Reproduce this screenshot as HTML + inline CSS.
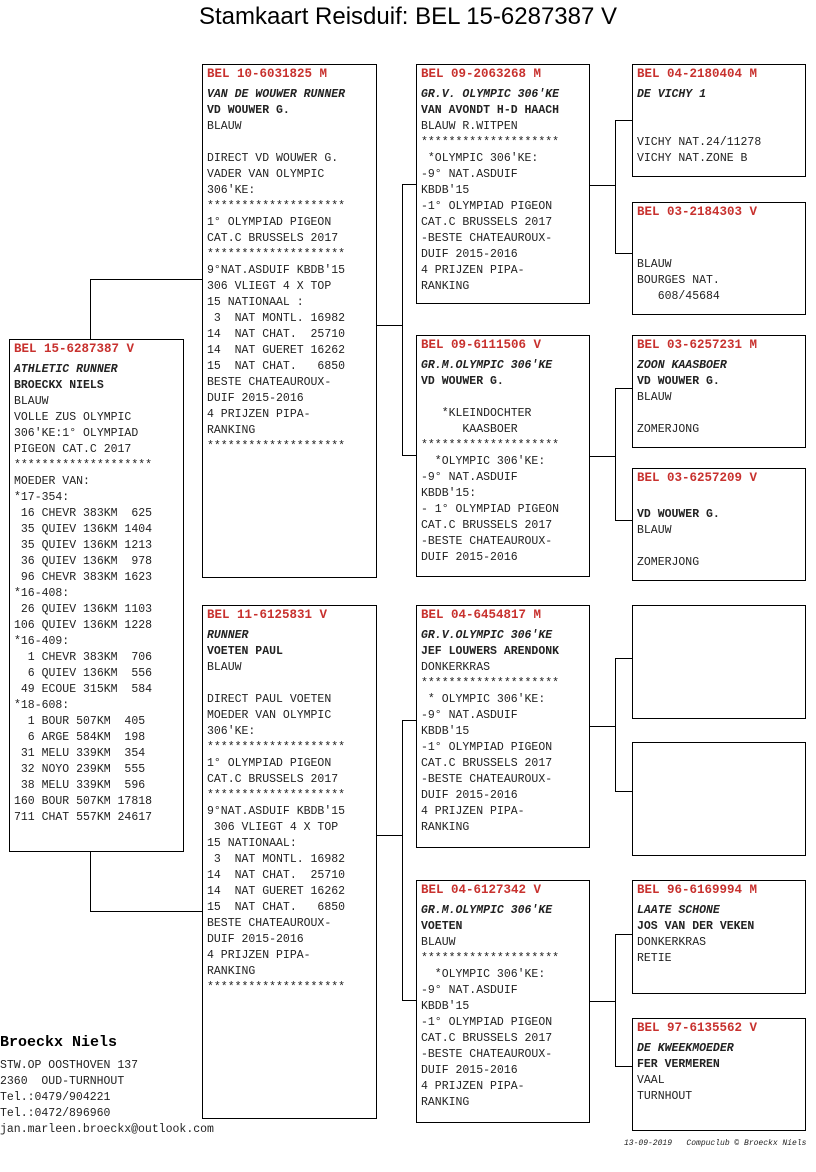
<!DOCTYPE html>
<html><head><meta charset="utf-8"><style>
body{margin:0;width:816px;height:1172px;background:#fff;position:relative;overflow:hidden;font-family:"Liberation Mono",monospace;}
.t{position:absolute;top:3px;left:0;width:816px;text-align:center;font-family:"Liberation Sans",sans-serif;font-size:24px;color:#000;}
.b{position:absolute;border:1px solid #000;box-sizing:border-box;padding:1px 0 0 4px;font-size:11.5px;line-height:16px;white-space:pre;color:#222;}
.h{color:#c8312e;font-weight:bold;font-size:12.5px;line-height:16px;margin-bottom:5px;}
.i{font-style:italic;font-weight:bold;}
.n{font-weight:bold;}
.l{position:absolute;background:#000;}
.ft{position:absolute;font-size:11.5px;line-height:16px;white-space:pre;color:#222;}
</style></head><body>
<div class="t">Stamkaart Reisduif: BEL 15-6287387 V</div>

<div class="b" style="left:9px;top:339px;width:175px;height:513px"><div class="h">BEL 15-6287387 V</div><span class="i">ATHLETIC RUNNER</span>
<span class="n">BROECKX NIELS</span>
BLAUW
VOLLE ZUS OLYMPIC
306'KE:1° OLYMPIAD
PIGEON CAT.C 2017
********************
MOEDER VAN:
*17-354:
 16 CHEVR 383KM  625
 35 QUIEV 136KM 1404
 35 QUIEV 136KM 1213
 36 QUIEV 136KM  978
 96 CHEVR 383KM 1623
*16-408:
 26 QUIEV 136KM 1103
106 QUIEV 136KM 1228
*16-409:
  1 CHEVR 383KM  706
  6 QUIEV 136KM  556
 49 ECOUE 315KM  584
*18-608:
  1 BOUR 507KM  405
  6 ARGE 584KM  198
 31 MELU 339KM  354
 32 NOYO 239KM  555
 38 MELU 339KM  596
160 BOUR 507KM 17818
711 CHAT 557KM 24617</div>

<div class="b" style="left:202px;top:64px;width:175px;height:514px"><div class="h">BEL 10-6031825 M</div><span class="i">VAN DE WOUWER RUNNER</span>
<span class="n">VD WOUWER G.</span>
BLAUW

DIRECT VD WOUWER G.
VADER VAN OLYMPIC
306'KE:
********************
1° OLYMPIAD PIGEON
CAT.C BRUSSELS 2017
********************
9°NAT.ASDUIF KBDB'15
306 VLIEGT 4 X TOP
15 NATIONAAL :
 3  NAT MONTL. 16982
14  NAT CHAT.  25710
14  NAT GUERET 16262
15  NAT CHAT.   6850
BESTE CHATEAUROUX-
DUIF 2015-2016
4 PRIJZEN PIPA-
RANKING
********************</div>

<div class="b" style="left:202px;top:605px;width:175px;height:514px"><div class="h">BEL 11-6125831 V</div><span class="i">RUNNER</span>
<span class="n">VOETEN PAUL</span>
BLAUW

DIRECT PAUL VOETEN
MOEDER VAN OLYMPIC
306'KE:
********************
1° OLYMPIAD PIGEON
CAT.C BRUSSELS 2017
********************
9°NAT.ASDUIF KBDB'15
 306 VLIEGT 4 X TOP
15 NATIONAAL:
 3  NAT MONTL. 16982
14  NAT CHAT.  25710
14  NAT GUERET 16262
15  NAT CHAT.   6850
BESTE CHATEAUROUX-
DUIF 2015-2016
4 PRIJZEN PIPA-
RANKING
********************</div>

<div class="b" style="left:416px;top:64px;width:174px;height:240px"><div class="h">BEL 09-2063268 M</div><span class="i">GR.V. OLYMPIC 306'KE</span>
<span class="n">VAN AVONDT H-D HAACH</span>
BLAUW R.WITPEN
********************
 *OLYMPIC 306'KE:
-9° NAT.ASDUIF
KBDB'15
-1° OLYMPIAD PIGEON
CAT.C BRUSSELS 2017
-BESTE CHATEAUROUX-
DUIF 2015-2016
4 PRIJZEN PIPA-
RANKING</div>

<div class="b" style="left:416px;top:335px;width:174px;height:242px"><div class="h">BEL 09-6111506 V</div><span class="i">GR.M.OLYMPIC 306'KE</span>
<span class="n">VD WOUWER G.</span>

   *KLEINDOCHTER
      KAASBOER
********************
  *OLYMPIC 306'KE:
-9° NAT.ASDUIF
KBDB'15:
- 1° OLYMPIAD PIGEON
CAT.C BRUSSELS 2017
-BESTE CHATEAUROUX-
DUIF 2015-2016</div>

<div class="b" style="left:416px;top:605px;width:174px;height:243px"><div class="h">BEL 04-6454817 M</div><span class="i">GR.V.OLYMPIC 306'KE</span>
<span class="n">JEF LOUWERS ARENDONK</span>
DONKERKRAS
********************
 * OLYMPIC 306'KE:
-9° NAT.ASDUIF
KBDB'15
-1° OLYMPIAD PIGEON
CAT.C BRUSSELS 2017
-BESTE CHATEAUROUX-
DUIF 2015-2016
4 PRIJZEN PIPA-
RANKING</div>

<div class="b" style="left:416px;top:880px;width:174px;height:243px"><div class="h">BEL 04-6127342 V</div><span class="i">GR.M.OLYMPIC 306'KE</span>
<span class="n">VOETEN</span>
BLAUW
********************
  *OLYMPIC 306'KE:
-9° NAT.ASDUIF
KBDB'15
-1° OLYMPIAD PIGEON
CAT.C BRUSSELS 2017
-BESTE CHATEAUROUX-
DUIF 2015-2016
4 PRIJZEN PIPA-
RANKING</div>

<div class="b" style="left:632px;top:64px;width:174px;height:113px"><div class="h">BEL 04-2180404 M</div><span class="i">DE VICHY 1</span>


VICHY NAT.24/11278
VICHY NAT.ZONE B</div>
<div class="b" style="left:632px;top:202px;width:174px;height:113px"><div class="h">BEL 03-2184303 V</div>

BLAUW
BOURGES NAT.
   608/45684</div>
<div class="b" style="left:632px;top:335px;width:174px;height:113px"><div class="h">BEL 03-6257231 M</div><span class="i">ZOON KAASBOER</span>
<span class="n">VD WOUWER G.</span>
BLAUW

ZOMERJONG</div>
<div class="b" style="left:632px;top:468px;width:174px;height:113px"><div class="h">BEL 03-6257209 V</div>
<span class="n">VD WOUWER G.</span>
BLAUW

ZOMERJONG</div>
<div class="b" style="left:632px;top:605px;width:174px;height:114px"></div>
<div class="b" style="left:632px;top:742px;width:174px;height:114px"></div>
<div class="b" style="left:632px;top:880px;width:174px;height:114px"><div class="h">BEL 96-6169994 M</div><span class="i">LAATE SCHONE</span>
<span class="n">JOS VAN DER VEKEN</span>
DONKERKRAS
RETIE</div>
<div class="b" style="left:632px;top:1018px;width:174px;height:113px"><div class="h">BEL 97-6135562 V</div><span class="i">DE KWEEKMOEDER</span>
<span class="n">FER VERMEREN</span>
VAAL
TURNHOUT</div>

<!-- connectors -->
<div class="l" style="left:90px;top:279px;width:1px;height:60px"></div>
<div class="l" style="left:90px;top:279px;width:112px;height:1px"></div>
<div class="l" style="left:90px;top:851px;width:1px;height:61px"></div>
<div class="l" style="left:90px;top:911px;width:112px;height:1px"></div>

<div class="l" style="left:376px;top:325px;width:26px;height:1px"></div>
<div class="l" style="left:402px;top:184px;width:1px;height:272px"></div>
<div class="l" style="left:402px;top:184px;width:14px;height:1px"></div>
<div class="l" style="left:402px;top:455px;width:14px;height:1px"></div>

<div class="l" style="left:376px;top:835px;width:26px;height:1px"></div>
<div class="l" style="left:402px;top:720px;width:1px;height:281px"></div>
<div class="l" style="left:402px;top:720px;width:14px;height:1px"></div>
<div class="l" style="left:402px;top:1000px;width:14px;height:1px"></div>

<div class="l" style="left:589px;top:185px;width:26px;height:1px"></div>
<div class="l" style="left:615px;top:120px;width:1px;height:134px"></div>
<div class="l" style="left:615px;top:120px;width:17px;height:1px"></div>
<div class="l" style="left:615px;top:253px;width:17px;height:1px"></div>

<div class="l" style="left:589px;top:456px;width:26px;height:1px"></div>
<div class="l" style="left:615px;top:388px;width:1px;height:133px"></div>
<div class="l" style="left:615px;top:388px;width:17px;height:1px"></div>
<div class="l" style="left:615px;top:520px;width:17px;height:1px"></div>

<div class="l" style="left:589px;top:726px;width:26px;height:1px"></div>
<div class="l" style="left:615px;top:658px;width:1px;height:134px"></div>
<div class="l" style="left:615px;top:658px;width:17px;height:1px"></div>
<div class="l" style="left:615px;top:791px;width:17px;height:1px"></div>

<div class="l" style="left:589px;top:1001px;width:26px;height:1px"></div>
<div class="l" style="left:615px;top:934px;width:1px;height:133px"></div>
<div class="l" style="left:615px;top:934px;width:17px;height:1px"></div>
<div class="l" style="left:615px;top:1066px;width:17px;height:1px"></div>

<div class="ft" style="left:0;top:1035px;font-size:15px;font-weight:bold;color:#000">Broeckx Niels</div>
<div class="ft" style="left:0;top:1058px">STW.OP OOSTHOVEN 137
2360  OUD-TURNHOUT
Tel.:0479/904221
Tel.:0472/896960
jan.marleen.broeckx@outlook.com</div>
<div class="ft" style="left:624px;top:1136px;font-size:8px;font-style:italic">13-09-2019   Compuclub © Broeckx Niels</div>
</body></html>
